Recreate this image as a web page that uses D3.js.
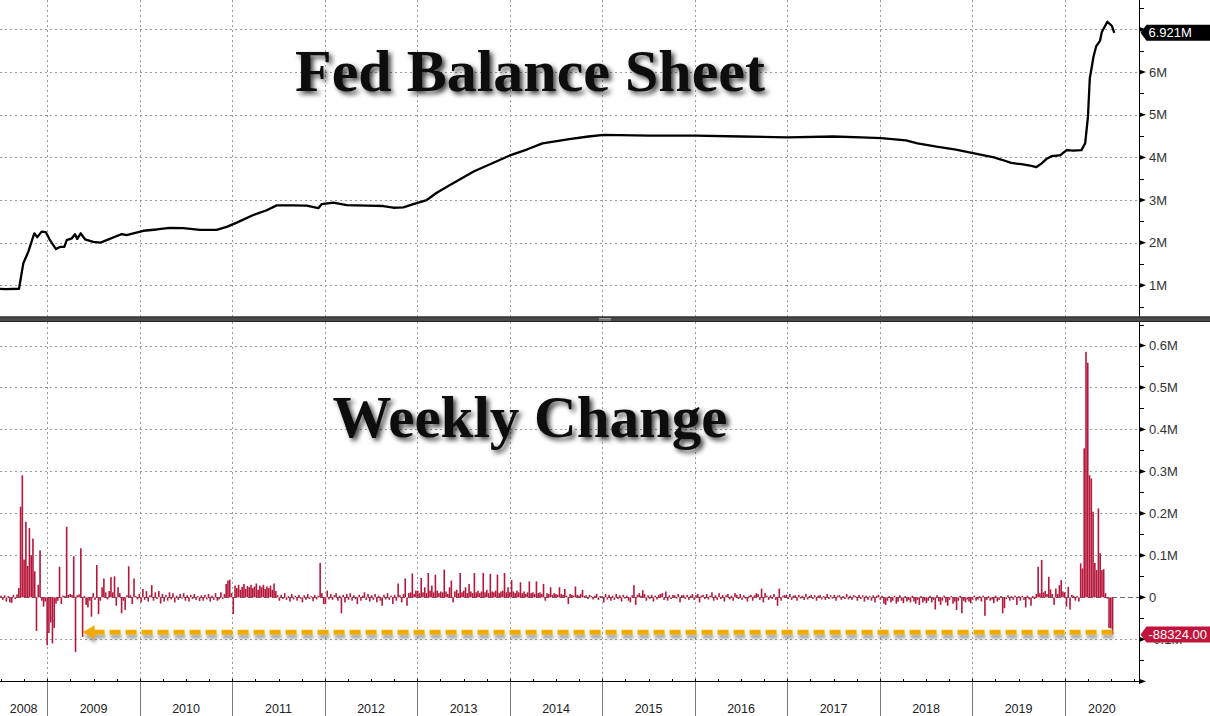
<!DOCTYPE html>
<html><head><meta charset="utf-8">
<script src="https://cdn.jsdelivr.net/npm/d3@7"></script>
<style>
html,body{margin:0;padding:0;background:#fff;}
svg{display:block;}
</style></head>
<body><svg id="c" width="1210" height="716"></svg>
<script>
// ---------------- DATA ----------------
// Fed balance sheet (millions of millions, i.e. "M" = $ trillions), dates in decimal years
const balDates = [2008.489,2008.55,2008.694,2008.741,2008.795,2008.859,2008.892,2008.939,2008.983,2009.029,2009.094,2009.137,2009.184,2009.210,2009.264,2009.299,2009.324,2009.361,2009.408,2009.497,2009.570,2009.642,2009.732,2009.804,2009.858,2009.930,2010.038,2010.183,2010.326,2010.470,2010.651,2010.831,2010.939,2011.048,2011.227,2011.372,2011.480,2011.656,2011.804,2011.930,2011.967,2012.092,2012.237,2012.453,2012.632,2012.741,2012.849,2012.957,2013.102,2013.210,2013.335,2013.609,2013.994,2014.19,2014.353,2014.643,2014.85,2015.015,2015.511,2016.007,2016.505,2017.001,2017.497,2017.8,2018.015,2018.283,2018.408,2018.614,2018.822,2019.007,2019.235,2019.31,2019.42,2019.53,2019.64,2019.69,2019.75,2019.80,2019.86,2019.95,2020.02,2020.09,2020.18,2020.22,2020.25,2020.27,2020.31,2020.34,2020.38,2020.40,2020.46,2020.51,2020.535];
const balValues = [0.92,0.91,0.92,1.52,1.79,2.22,2.13,2.26,2.25,2.06,1.85,1.90,1.90,2.06,2.10,2.20,2.09,2.22,2.08,2.02,2.00,2.06,2.14,2.20,2.18,2.22,2.28,2.31,2.35,2.34,2.30,2.30,2.37,2.47,2.65,2.76,2.875,2.875,2.87,2.81,2.905,2.94,2.88,2.87,2.86,2.82,2.83,2.905,3.00,3.17,3.33,3.67,4.04,4.19,4.33,4.43,4.49,4.53,4.51,4.51,4.49,4.47,4.49,4.47,4.45,4.40,4.33,4.25,4.18,4.10,4.00,3.95,3.87,3.84,3.80,3.77,3.86,3.96,4.03,4.05,4.17,4.16,4.17,4.33,4.95,5.85,6.36,6.61,6.73,6.94,7.18,7.08,6.921];

// Weekly change ($ billions), one value per week, grouped by year
const wk2008 = [4,-6,5,-10,3,-12,-13,6,-4,7,22,216,291,90,180,75,165,100,140,62,-80,30,112,-8,-22,-10];
const wk2009 = [-114,-85,-60,-110,-73,-15,-8,73,-16,4,3,168,6,8,6,98,-130,5,7,117,-94,3,-18,-24,-8,-46,10,-6,77,-40,-8,24,45,12,-5,15,48,12,50,-20,24,10,-38,-8,-30,5,74,5,-16,45,3,-5];
const wk2010 = [8,-12,20,-6,15,-10,5,29,-8,12,-4,15,-15,8,-10,6,-8,12,-5,10,-12,4,-6,8,-3,10,-8,5,-10,6,-4,8,-6,3,-9,5,-8,6,-5,8,-10,4,-6,10,-8,-5,12,-4,8,32,40,42];
const wk2011 = [10,-40,28,22,30,18,25,32,20,27,24,30,22,26,33,18,28,24,30,20,26,22,28,18,33,15,5,-8,6,-4,10,-6,3,-10,8,-5,4,-8,6,-3,-12,5,-6,8,-4,3,-9,6,-5,4,82,10,-16];
const wk2012 = [-16,16,-5,8,-6,5,10,-8,4,-38,6,-12,8,-6,10,-8,5,-4,-16,6,-8,4,12,-6,8,-10,5,-6,8,-12,4,-8,-20,6,-5,10,-6,4,-16,6,-8,33,5,-12,8,45,-20,10,12,57,8,16];
const wk2013 = [16,10,46,12,24,10,58,16,28,12,54,16,10,14,12,66,14,8,24,40,-12,14,18,10,58,12,16,24,10,32,14,10,58,12,16,10,14,58,12,18,10,56,14,12,16,54,10,14,16,58,12,24];
const wk2014 = [12,41,14,10,16,12,36,10,14,8,12,38,10,12,8,38,10,12,8,32,-8,10,8,24,6,10,8,6,24,8,6,20,4,-16,8,6,4,26,6,4,8,18,3,5,-4,6,3,-5,4,8,-6,3];
const wk2015 = [3,-12,8,-5,6,-8,4,-6,8,-4,5,-10,6,-3,4,-8,-12,5,29,-18,6,10,4,17,8,-8,5,-4,6,-10,4,-5,6,8,10,-6,14,-8,5,-4,6,5,-3,8,-12,5,6,-4,6,-6,4,8];
const wk2016 = [-6,5,8,-12,4,6,-4,8,-5,4,12,-8,5,-6,10,-4,6,-10,5,8,-5,4,-8,10,6,-4,8,-6,5,-3,-10,4,6,-8,5,10,8,-6,21,-12,10,4,-6,5,-4,8,-6,-20,21,-8,4,5];
const wk2017 = [6,-4,8,-6,4,5,-8,6,-3,4,-6,8,-5,3,6,-4,5,-8,4,6,-5,3,-6,8,-4,5,-3,6,-8,4,5,-6,3,-4,8,-5,4,-6,5,3,-8,6,-4,5,-10,4,-6,3,-8,5,-12,4,6];
const wk2018 = [-6,4,-15,-18,-8,3,-12,-8,4,-15,-10,5,-8,-14,3,-10,-6,-12,4,-10,-15,-6,-18,3,-12,-8,-14,-8,4,-12,-6,-29,5,-10,-18,-8,4,-12,-20,-6,3,-15,-10,-30,-8,4,-38,-8,-12,-5,-10,-14];
const wk2019 = [-6,4,-8,-5,3,-10,4,-44,-6,3,-8,-5,-14,4,-10,-6,3,-38,-26,-4,5,-8,3,-6,4,-18,3,-8,4,-6,-24,4,-5,-20,3,-4,8,73,10,89,12,15,8,49,19,8,-18,21,8,29,41,14];
const wk2020 = [12,-22,25,-29,6,4,-8,3,-10,81,69,355,585,559,291,283,204,82,65,212,105,65,67,10,-3,-73,-74,-88.324];
const weeklyChange = [].concat(wk2008,wk2009,wk2010,wk2011,wk2012,wk2013,wk2014,wk2015,wk2016,wk2017,wk2018,wk2019,wk2020);
const firstWeek = 2008.5;           // decimal year of first weekly observation (Jul 2, 2008)
const weekLength = 7 / 365.25;

const yearLabels = ["2008","2009","2010","2011","2012","2013","2014","2015","2016","2017","2018","2019","2020"];
const topTicks = [1,2,3,4,5,6,7];
const topTickLabels = ["1M","2M","3M","4M","5M","6M",""];
const botTicks = [-200,-100,0,100,200,300,400,500,600];
const botTickLabels = ["","-0.1M","0","0.1M","0.2M","0.3M","0.4M","0.5M","0.6M"];
const lastBalanceLabel = "6.921M";
const lastChangeLabel = "-88324.00";
const titleTop = "Fed Balance Sheet";
const titleBottom = "Weekly Change";
const arrowFromWeek = 46;   // index of the week the arrow points back to

// ---------------- LAYOUT ----------------
const W = 1210, H = 716, axisX = 1139;
const topY0 = 0, topY1 = 316.5, botY0 = 322, botY1 = 681.3;
const x = d3.scaleLinear().domain([2008.4886, 2020.802]).range([0, axisX]);
const yT = d3.scaleLinear().domain([0.27, 7.69]).range([topY1, topY0]);
const yB = d3.scaleLinear().domain([-200, 656]).range([botY1, botY0]);
const weekDate = i => firstWeek + i * weekLength;

const svg = d3.select('#c');
svg.append('rect').attr('width', W).attr('height', H).attr('fill', '#fff');
const defs = svg.append('defs');
defs.append('clipPath').attr('id','clipT').append('rect').attr('x',0).attr('y',topY0).attr('width',axisX).attr('height',topY1-topY0);
defs.append('clipPath').attr('id','clipB').append('rect').attr('x',0).attr('y',botY0).attr('width',axisX).attr('height',botY1-botY0);
const f1 = defs.append('filter').attr('id','tshadow').attr('x','-10%').attr('y','-30%').attr('width','120%').attr('height','170%');
f1.append('feDropShadow').attr('dx',3).attr('dy',3).attr('stdDeviation',2.4).attr('flood-color','#000').attr('flood-opacity',0.75);
const f2 = defs.append('filter').attr('id','ashadow').attr('x','-5%').attr('y','-100%').attr('width','110%').attr('height','400%');
f2.append('feDropShadow').attr('dx',1).attr('dy',4).attr('stdDeviation',1.6).attr('flood-color','#666').attr('flood-opacity',0.55);

const gridColor = '#9a9a9a';
const yearBounds = d3.range(2009, 2021);

// vertical gridlines
const grid = svg.append('g').attr('shape-rendering','crispEdges');
yearBounds.forEach(yr => {
  const gx = Math.round(x(yr)) + 0.5;
  [[topY0, topY1],[botY0, botY1]].forEach(([a,b]) => {
    grid.append('line').attr('x1',gx).attr('x2',gx).attr('y1',a).attr('y2',b)
      .attr('stroke',gridColor).attr('stroke-dasharray','2,3');
  });
});
// horizontal gridlines
topTicks.forEach(v => {
  const gy = Math.round(yT(v)) + 0.5;
  grid.append('line').attr('x1',0).attr('x2',axisX).attr('y1',gy).attr('y2',gy)
    .attr('stroke',gridColor).attr('stroke-dasharray','2,3');
});
botTicks.filter(v => v > -200).forEach(v => {
  const gy = Math.round(yB(v)) + 0.5;
  grid.append('line').attr('x1',0).attr('x2',axisX).attr('y1',gy).attr('y2',gy)
    .attr('stroke', v === 0 ? '#6a6a6a' : gridColor)
    .attr('stroke-dasharray', v === 0 ? '5,3' : '2,3');
});

// titles
svg.append('text').attr('x',530).attr('y',91).attr('text-anchor','middle')
  .attr('font-family','"Liberation Serif","Times New Roman",serif').attr('font-weight','bold')
  .attr('font-size',60).attr('fill','#111').attr('filter','url(#tshadow)').text(titleTop);
svg.append('text').attr('x',530).attr('y',437).attr('text-anchor','middle')
  .attr('font-family','"Liberation Serif","Times New Roman",serif').attr('font-weight','bold')
  .attr('font-size',59).attr('fill','#111').attr('filter','url(#tshadow)').text(titleBottom);

// balance sheet line
const balData = balDates.map((d,i) => ({t:d, v:balValues[i]}));
const lineGen = d3.line().x(d => x(d.t)).y(d => yT(d.v)).curve(d3.curveLinear);
svg.append('g').attr('clip-path','url(#clipT)').append('path')
  .datum(balData)
  .attr('d', lineGen)
  .attr('fill','none').attr('stroke','#000').attr('stroke-width',2.3).attr('stroke-linejoin','round');

// weekly change bars
const barW = 1.6;
svg.append('g').attr('clip-path','url(#clipB)')
  .selectAll('rect').data(weeklyChange).join('rect')
  .attr('x', (v,i) => x(weekDate(i)) - barW/2)
  .attr('width', barW)
  .attr('y', v => Math.min(yB(v), yB(0)))
  .attr('height', v => Math.max(1, Math.abs(yB(v) - yB(0))))
  .attr('fill', '#b5173b');

// orange dashed arrow
const arrY = yB(-83);
const tipX = x(weekDate(arrowFromWeek));
const endX = x(weekDate(weeklyChange.length - 1));
const ag = svg.append('g').attr('filter','url(#ashadow)');
ag.append('line').attr('x1', endX).attr('x2', tipX + 11).attr('y1', arrY).attr('y2', arrY)
  .attr('stroke','#f2a900').attr('stroke-width',5).attr('stroke-dasharray','11,5');
ag.append('path').attr('d', `M${tipX},${arrY} L${tipX+12},${arrY-7} L${tipX+12},${arrY+7} Z`)
  .attr('fill','#f2a900');

// separator band
svg.append('rect').attr('x',0).attr('y',topY1).attr('width',W).attr('height',botY0-topY1).attr('fill','#4a4a4a');
svg.append('line').attr('x1',0).attr('x2',W).attr('y1',topY1+0.5).attr('y2',topY1+0.5).attr('stroke','#262626');
svg.append('line').attr('x1',0).attr('x2',W).attr('y1',botY0-0.5).attr('y2',botY0-0.5).attr('stroke','#262626');
[318.5, 320].forEach(gy => svg.append('line').attr('x1',599).attr('x2',611).attr('y1',gy).attr('y2',gy).attr('stroke','#b8b8b8').attr('stroke-width',0.8));

// right axes
const ax = svg.append('g');
ax.append('line').attr('x1',axisX+0.5).attr('x2',axisX+0.5).attr('y1',topY0).attr('y2',topY1).attr('stroke','#000');
ax.append('line').attr('x1',axisX+0.5).attr('x2',axisX+0.5).attr('y1',botY0).attr('y2',botY1+2).attr('stroke','#000');
function majorTick(yy){
  ax.append('path').attr('d',`M${axisX},${yy-2.6} L${axisX+7},${yy} L${axisX},${yy+2.6} Z`).attr('fill','#000');
}
function minorTick(yy){
  ax.append('line').attr('x1',axisX).attr('x2',axisX+5).attr('y1',Math.round(yy)+0.5).attr('y2',Math.round(yy)+0.5).attr('stroke','#000');
}
const labelFont = '"Liberation Sans",Arial,sans-serif';
topTicks.forEach((v,i) => {
  majorTick(yT(v));
  if (topTickLabels[i]) ax.append('text').attr('x',1149).attr('y',yT(v)).attr('dy','0.36em')
    .attr('font-family',labelFont).attr('font-size',13).attr('fill','#333').text(topTickLabels[i]);
});
d3.range(0.5, 7.6, 1).forEach(v => minorTick(yT(v)));
botTicks.forEach((v,i) => {
  majorTick(yB(v));
  if (botTickLabels[i]) ax.append('text').attr('x',1149).attr('y',yB(v)).attr('dy','0.36em')
    .attr('font-family',labelFont).attr('font-size',13).attr('fill','#333').text(botTickLabels[i]);
});
d3.range(-150, 660, 100).forEach(v => minorTick(yB(v)));

// x axis
const xa = svg.append('g').attr('shape-rendering','crispEdges');
const axY = Math.round(botY1) + 0.5;
xa.append('line').attr('x1',0).attr('x2',axisX).attr('y1',axY).attr('y2',axY).attr('stroke','#000');
d3.range(2008.5, 2020.81, 0.25).forEach(t => {
  const tx = Math.round(x(t)) + 0.5;
  xa.append('line').attr('x1',tx).attr('x2',tx).attr('y1',axY).attr('y2',axY-3).attr('stroke','#000');
});
yearBounds.forEach(yr => {
  const tx = Math.round(x(yr)) + 0.5;
  xa.append('line').attr('x1',tx).attr('x2',tx).attr('y1',axY).attr('y2',H).attr('stroke','#7a7a7a');
});
yearLabels.forEach(lbl => {
  const yr = +lbl;
  const a = Math.max(0, x(yr)), b = Math.min(axisX, x(yr+1));
  svg.append('text').attr('x',(a+b)/2).attr('y',708).attr('dy','0.36em').attr('text-anchor','middle')
    .attr('font-family',labelFont).attr('font-size',12.5).attr('fill','#222').text(lbl);
});

// last value badges
function badge(yy, txt, fill){
  const x0 = axisX + 1.5;
  svg.append('path').attr('d',`M${x0},${yy} L${x0+6},${yy-8} L${W},${yy-8} L${W},${yy+8} L${x0+6},${yy+8} Z`).attr('fill',fill);
  svg.append('text').attr('x',x0+8).attr('y',yy).attr('dy','0.36em')
    .attr('font-family',labelFont).attr('font-size',13).attr('fill','#fff').text(txt);
}
badge(yT(balValues[balValues.length-1]), lastBalanceLabel, '#000');
badge(yB(weeklyChange[weeklyChange.length-1]), lastChangeLabel, '#c0143c');
</script>
</body></html>
